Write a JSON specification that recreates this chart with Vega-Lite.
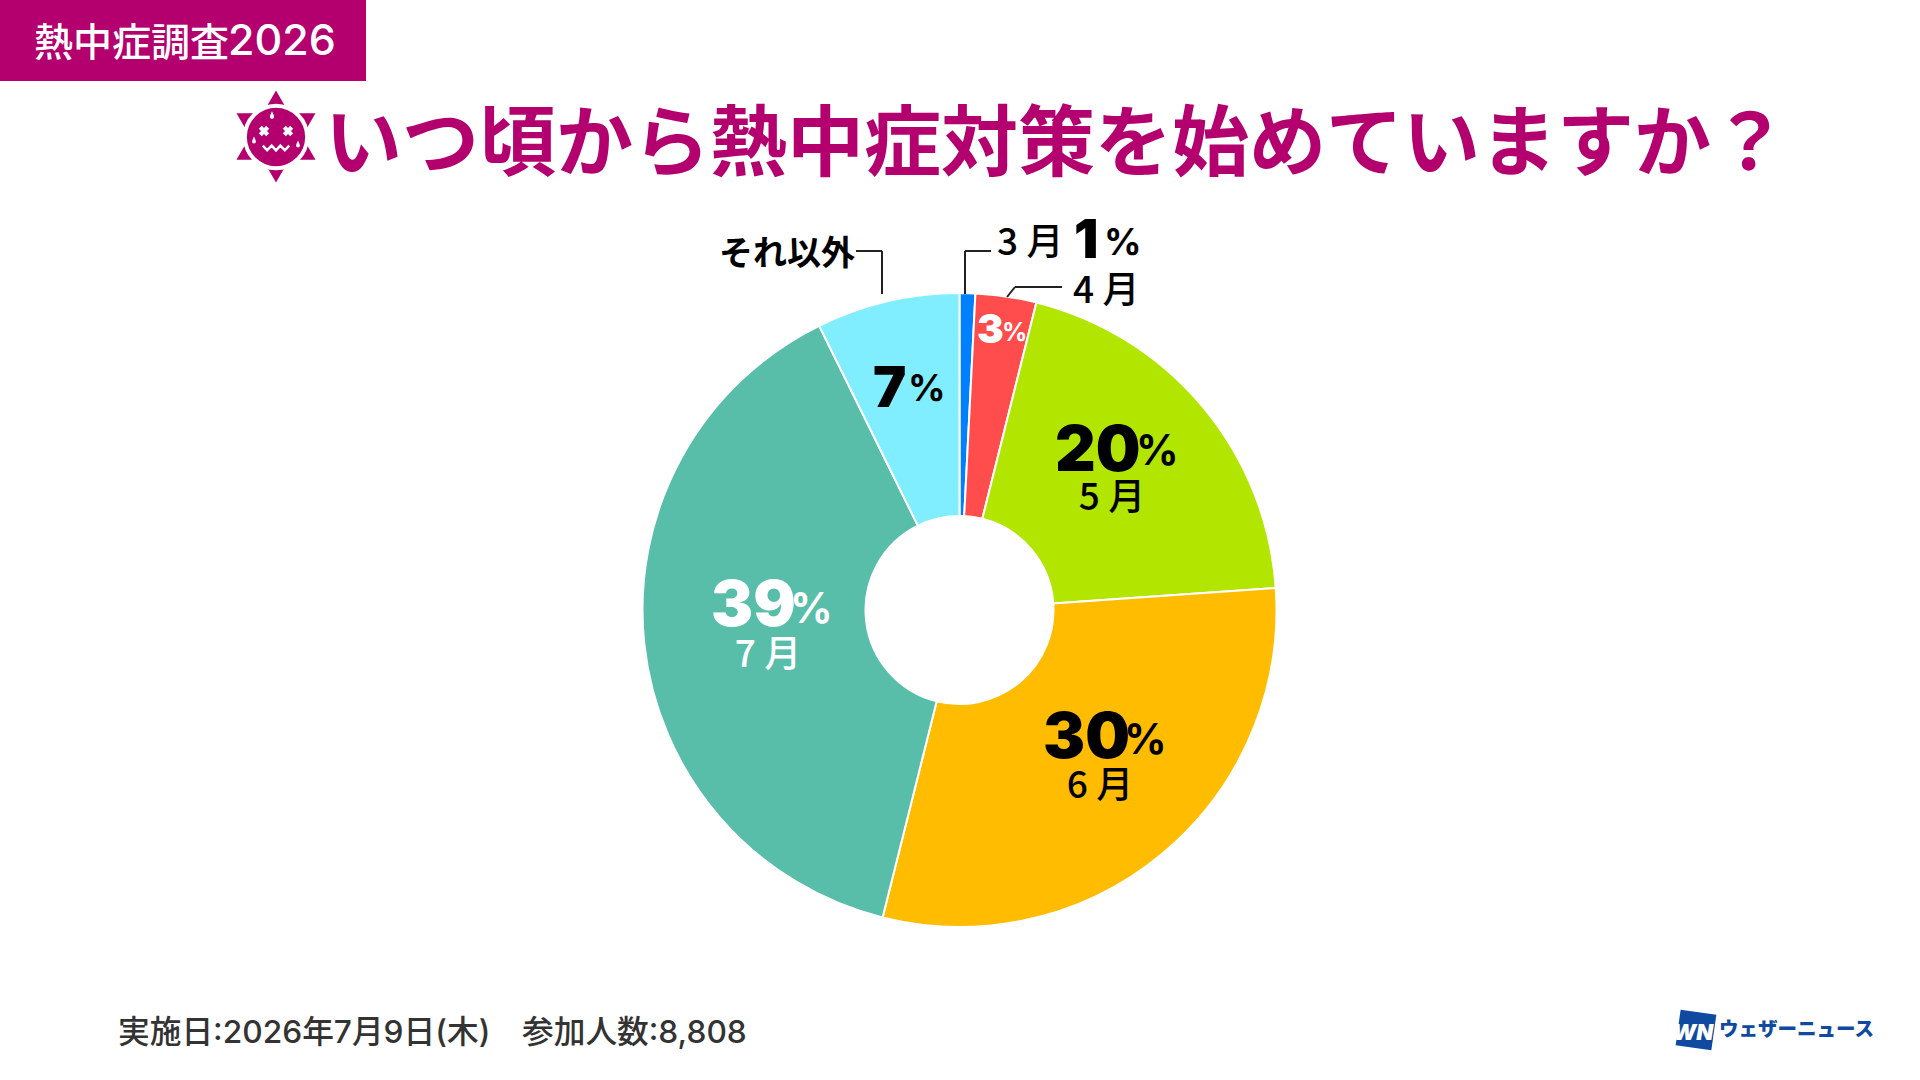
{
  "$schema": "https://vega.github.io/schema/vega-lite/v6.json",
  "autosize": {"type": "fit", "contains": "padding"},
  "padding": 0,
  "width": 1920,
  "height": 1080,
  "background": "white",
  "config": {"view": {"stroke": null}, "axis": {"disable": true}, "text": {"font": "Noto Sans CJK JP"}},
  "datasets": {
    "one": [{}],
    "shares": [
      {"month": "3 月", "share": 0.8, "ord": 1, "pct": "1"},
      {"month": "4 月", "share": 3.1, "ord": 2, "pct": "3"},
      {"month": "5 月", "share": 20.0, "ord": 3, "pct": "20"},
      {"month": "6 月", "share": 30.0, "ord": 4, "pct": "30"},
      {"month": "7 月", "share": 38.8, "ord": 5, "pct": "39"},
      {"month": "それ以外", "share": 7.3, "ord": 6, "pct": "7"}
    ]
  },
  "data": {"name": "shares"},
  "layer": [
    {
      "mark": {"type": "arc", "outerRadius": 317, "innerRadius": 94, "stroke": "white", "strokeWidth": 2},
      "encoding": {
        "x": {"datum": 959.5, "scale": {"domain": [0, 1920], "nice": false, "zero": false}},
        "y": {"datum": 610, "scale": {"domain": [1080, 0], "nice": false, "zero": false}},
        "theta": {"field": "share", "type": "quantitative", "stack": true},
        "order": {"field": "ord"},
        "color": {
          "field": "month",
          "type": "nominal",
          "legend": null,
          "scale": {
            "domain": ["3 月", "4 月", "5 月", "6 月", "7 月", "それ以外"],
            "range": ["#0080ff", "#ff4d4d", "#b2e600", "#ffbc00", "#58bea9", "#80eeff"]
          }
        }
      }
    },
    {
      "data": {"name": "one"},
      "mark": {"type": "rect", "color": "#b3006e"},
      "encoding": {"x": {"datum": 0}, "x2": {"datum": 366}, "y": {"datum": 0}, "y2": {"datum": 81}}
    },
    {
      "data": {"values": [{"t": "熱中症調査"}]},
      "mark": {"type": "text", "align": "left", "baseline": "middle", "fontSize": 39, "fontWeight": 500, "color": "white"},
      "encoding": {"x": {"datum": 34}, "y": {"datum": 44}, "text": {"field": "t"}}
    },
    {
      "data": {"values": [{"t": "2026"}]},
      "mark": {"type": "text", "align": "left", "baseline": "middle", "font": "Inter", "fontSize": 43, "fontWeight": 500, "color": "white"},
      "encoding": {"x": {"datum": 228}, "y": {"datum": 42}, "text": {"field": "t"}}
    },
    {
      "data": {"values": [{"t": "いつ頃から熱中症対策を始めていますか？"}]},
      "mark": {"type": "text", "align": "left", "baseline": "middle", "fontSize": 77, "fontWeight": 700, "color": "#b3006e"},
      "encoding": {"x": {"datum": 325}, "y": {"datum": 147}, "text": {"field": "t"}}
    },
    {
      "data": {"name": "one"},
      "mark": {"type": "point", "shape": "triangle-up", "filled": true, "opacity": 1, "size": 300, "color": "#b3006e"},
      "encoding": {"x": {"datum": 276}, "y": {"datum": 98}}
    },
    {
      "data": {"name": "one"},
      "mark": {"type": "point", "shape": "triangle-down", "filled": true, "opacity": 1, "size": 300, "color": "#b3006e"},
      "encoding": {"x": {"datum": 276}, "y": {"datum": 175}}
    },
    {
      "data": {"name": "one"},
      "mark": {"type": "point", "shape": "triangle-up", "angle": 300, "filled": true, "opacity": 1, "size": 300, "color": "#b3006e"},
      "encoding": {"x": {"datum": 243}, "y": {"datum": 117}}
    },
    {
      "data": {"name": "one"},
      "mark": {"type": "point", "shape": "triangle-up", "angle": 60, "filled": true, "opacity": 1, "size": 300, "color": "#b3006e"},
      "encoding": {"x": {"datum": 309}, "y": {"datum": 117}}
    },
    {
      "data": {"name": "one"},
      "mark": {"type": "point", "shape": "triangle-up", "angle": 240, "filled": true, "opacity": 1, "size": 300, "color": "#b3006e"},
      "encoding": {"x": {"datum": 243}, "y": {"datum": 156}}
    },
    {
      "data": {"name": "one"},
      "mark": {"type": "point", "shape": "triangle-up", "angle": 120, "filled": true, "opacity": 1, "size": 300, "color": "#b3006e"},
      "encoding": {"x": {"datum": 309}, "y": {"datum": 156}}
    },
    {
      "data": {"name": "one"},
      "mark": {"type": "point", "shape": "circle", "filled": true, "opacity": 1, "size": 4400, "color": "white"},
      "encoding": {"x": {"datum": 276}, "y": {"datum": 137}}
    },
    {
      "data": {"name": "one"},
      "mark": {"type": "point", "shape": "circle", "filled": true, "opacity": 1, "size": 3400, "color": "#b3006e"},
      "encoding": {"x": {"datum": 276}, "y": {"datum": 137}}
    },
    {
      "data": {"name": "one"},
      "mark": {"type": "point", "shape": "cross", "angle": 45, "filled": true, "opacity": 1, "size": 110, "color": "white"},
      "encoding": {"x": {"datum": 264}, "y": {"datum": 131}}
    },
    {
      "data": {"name": "one"},
      "mark": {"type": "point", "shape": "cross", "angle": 45, "filled": true, "opacity": 1, "size": 110, "color": "white"},
      "encoding": {"x": {"datum": 288}, "y": {"datum": 131}}
    },
    {
      "data": {"name": "one"},
      "mark": {"type": "point", "shape": "M-1,-.1L-.67,.25L-.33,-.1L0,.25L.33,-.1L.67,.25L1,-.1", "filled": false, "opacity": 1, "size": 700, "strokeWidth": 2.5, "color": "white"},
      "encoding": {"x": {"datum": 276}, "y": {"datum": 147}}
    },
    {
      "data": {"name": "one"},
      "mark": {"type": "point", "shape": "M0,-1C.3,-.3 .55,.1 .55,.45A.55,.55 0 1 1 -.55,.45C-.55,.1 -.3,-.3 0,-1Z", "filled": true, "opacity": 1, "size": 60, "color": "white"},
      "encoding": {"x": {"datum": 272}, "y": {"datum": 115}}
    },
    {
      "data": {"name": "one"},
      "mark": {"type": "point", "shape": "M0,-1C.3,-.3 .55,.1 .55,.45A.55,.55 0 1 1 -.55,.45C-.55,.1 -.3,-.3 0,-1Z", "filled": true, "opacity": 1, "size": 50, "color": "white"},
      "encoding": {"x": {"datum": 254}, "y": {"datum": 140}}
    },
    {
      "data": {"name": "one"},
      "mark": {"type": "point", "shape": "M0,-1C.3,-.3 .55,.1 .55,.45A.55,.55 0 1 1 -.55,.45C-.55,.1 -.3,-.3 0,-1Z", "filled": true, "opacity": 1, "size": 50, "color": "white"},
      "encoding": {"x": {"datum": 298}, "y": {"datum": 144}}
    },
    {
      "data": {"name": "one"},
      "mark": {"type": "rule", "stroke": "#222222", "strokeWidth": 2},
      "encoding": {"x": {"datum": 856}, "x2": {"datum": 882}, "y": {"datum": 251}, "y2": {"datum": 251}}
    },
    {
      "data": {"name": "one"},
      "mark": {"type": "rule", "stroke": "#222222", "strokeWidth": 2},
      "encoding": {"x": {"datum": 882}, "x2": {"datum": 882}, "y": {"datum": 251}, "y2": {"datum": 294}}
    },
    {
      "data": {"name": "one"},
      "mark": {"type": "rule", "stroke": "#222222", "strokeWidth": 2},
      "encoding": {"x": {"datum": 965}, "x2": {"datum": 991}, "y": {"datum": 251}, "y2": {"datum": 251}}
    },
    {
      "data": {"name": "one"},
      "mark": {"type": "rule", "stroke": "#222222", "strokeWidth": 2},
      "encoding": {"x": {"datum": 965}, "x2": {"datum": 965}, "y": {"datum": 251}, "y2": {"datum": 294}}
    },
    {
      "data": {"name": "one"},
      "mark": {"type": "rule", "stroke": "#222222", "strokeWidth": 2},
      "encoding": {"x": {"datum": 1015}, "x2": {"datum": 1062}, "y": {"datum": 287}, "y2": {"datum": 287}}
    },
    {
      "data": {"name": "one"},
      "mark": {"type": "rule", "stroke": "#222222", "strokeWidth": 2},
      "encoding": {"x": {"datum": 1007}, "x2": {"datum": 1015}, "y": {"datum": 297}, "y2": {"datum": 287}}
    },
    {
      "transform": [{"filter": "datum.ord == 6"}],
      "mark": {"type": "text", "align": "right", "baseline": "middle", "fontSize": 34, "fontWeight": 700, "color": "black"},
      "encoding": {"x": {"datum": 855}, "y": {"datum": 255}, "text": {"field": "month"}}
    },
    {
      "transform": [{"filter": "datum.ord == 1"}],
      "mark": {"type": "text", "align": "left", "baseline": "middle", "fontSize": 37, "fontWeight": 500, "color": "black"},
      "encoding": {"x": {"datum": 997}, "y": {"datum": 244}, "text": {"field": "month"}}
    },
    {
      "transform": [{"filter": "datum.ord == 1"}],
      "mark": {"type": "text", "align": "left", "baseline": "middle", "font": "Inter", "fontSize": 54, "fontWeight": 900, "color": "black"},
      "encoding": {"x": {"datum": 1074}, "y": {"datum": 242}, "text": {"field": "pct"}}
    },
    {
      "data": {"values": [{"t": "%"}]},
      "mark": {"type": "text", "align": "left", "baseline": "middle", "font": "Inter", "fontSize": 37, "fontWeight": 700, "color": "black"},
      "encoding": {"x": {"datum": 1104}, "y": {"datum": 244}, "text": {"field": "t"}}
    },
    {
      "transform": [{"filter": "datum.ord == 2"}],
      "mark": {"type": "text", "align": "left", "baseline": "middle", "fontSize": 37, "fontWeight": 500, "color": "black"},
      "encoding": {"x": {"datum": 1073}, "y": {"datum": 292}, "text": {"field": "month"}}
    },
    {
      "transform": [{"filter": "datum.ord == 2"}],
      "mark": {"type": "text", "align": "left", "baseline": "middle", "font": "Inter", "fontSize": 40, "fontWeight": 900, "color": "white"},
      "encoding": {"x": {"datum": 977}, "y": {"datum": 331}, "text": {"field": "pct"}}
    },
    {
      "data": {"values": [{"t": "%"}]},
      "mark": {"type": "text", "align": "left", "baseline": "middle", "font": "Inter", "fontSize": 25, "fontWeight": 700, "color": "white"},
      "encoding": {"x": {"datum": 1002}, "y": {"datum": 333}, "text": {"field": "t"}}
    },
    {
      "transform": [{"filter": "datum.ord == 3"}],
      "mark": {"type": "text", "align": "left", "baseline": "middle", "font": "Inter", "fontSize": 63, "fontWeight": 900, "color": "black"},
      "encoding": {"x": {"datum": 1055}, "y": {"datum": 452}, "text": {"field": "pct"}}
    },
    {
      "data": {"values": [{"t": "%"}]},
      "mark": {"type": "text", "align": "left", "baseline": "middle", "font": "Inter", "fontSize": 42, "fontWeight": 700, "color": "black"},
      "encoding": {"x": {"datum": 1136}, "y": {"datum": 452}, "text": {"field": "t"}}
    },
    {
      "transform": [{"filter": "datum.ord == 3"}],
      "mark": {"type": "text", "align": "center", "baseline": "middle", "fontSize": 37, "fontWeight": 500, "color": "black"},
      "encoding": {"x": {"datum": 1112}, "y": {"datum": 499}, "text": {"field": "month"}}
    },
    {
      "transform": [{"filter": "datum.ord == 4"}],
      "mark": {"type": "text", "align": "left", "baseline": "middle", "font": "Inter", "fontSize": 63, "fontWeight": 900, "color": "black"},
      "encoding": {"x": {"datum": 1043}, "y": {"datum": 739}, "text": {"field": "pct"}}
    },
    {
      "data": {"values": [{"t": "%"}]},
      "mark": {"type": "text", "align": "left", "baseline": "middle", "font": "Inter", "fontSize": 42, "fontWeight": 700, "color": "black"},
      "encoding": {"x": {"datum": 1124}, "y": {"datum": 741}, "text": {"field": "t"}}
    },
    {
      "transform": [{"filter": "datum.ord == 4"}],
      "mark": {"type": "text", "align": "center", "baseline": "middle", "fontSize": 37, "fontWeight": 500, "color": "black"},
      "encoding": {"x": {"datum": 1100}, "y": {"datum": 787}, "text": {"field": "month"}}
    },
    {
      "transform": [{"filter": "datum.ord == 5"}],
      "mark": {"type": "text", "align": "left", "baseline": "middle", "font": "Inter", "fontSize": 63, "fontWeight": 900, "color": "white"},
      "encoding": {"x": {"datum": 711}, "y": {"datum": 607}, "text": {"field": "pct"}}
    },
    {
      "data": {"values": [{"t": "%"}]},
      "mark": {"type": "text", "align": "left", "baseline": "middle", "font": "Inter", "fontSize": 42, "fontWeight": 700, "color": "white"},
      "encoding": {"x": {"datum": 790}, "y": {"datum": 610}, "text": {"field": "t"}}
    },
    {
      "transform": [{"filter": "datum.ord == 5"}],
      "mark": {"type": "text", "align": "center", "baseline": "middle", "fontSize": 37, "fontWeight": 500, "color": "white"},
      "encoding": {"x": {"datum": 768}, "y": {"datum": 656}, "text": {"field": "month"}}
    },
    {
      "transform": [{"filter": "datum.ord == 6"}],
      "mark": {"type": "text", "align": "left", "baseline": "middle", "font": "Inter", "fontSize": 56, "fontWeight": 900, "color": "black"},
      "encoding": {"x": {"datum": 873}, "y": {"datum": 390}, "text": {"field": "pct"}}
    },
    {
      "data": {"values": [{"t": "%"}]},
      "mark": {"type": "text", "align": "left", "baseline": "middle", "font": "Inter", "fontSize": 37, "fontWeight": 700, "color": "black"},
      "encoding": {"x": {"datum": 908}, "y": {"datum": 390}, "text": {"field": "t"}}
    },
    {
      "data": {"values": [{"t": "実施日:2026年7月9日(木)　参加人数:8,808"}]},
      "mark": {"type": "text", "align": "left", "baseline": "middle", "font": "Inter, Noto Sans CJK JP", "fontSize": 31.7, "fontWeight": 500, "color": "#333333"},
      "encoding": {"x": {"datum": 118}, "y": {"datum": 1033}, "text": {"field": "t"}}
    },
    {
      "data": {"name": "one"},
      "mark": {"type": "point", "shape": "square", "angle": 8, "filled": true, "opacity": 1, "size": 1300, "color": "#0f4aa0"},
      "encoding": {"x": {"datum": 1696}, "y": {"datum": 1030}}
    },
    {
      "data": {"values": [{"t": "WNI"}]},
      "mark": {"type": "text", "align": "center", "baseline": "middle", "font": "Inter", "fontStyle": "italic", "fontSize": 22, "fontWeight": 900, "color": "white"},
      "encoding": {"x": {"datum": 1696}, "y": {"datum": 1033}, "text": {"field": "t"}}
    },
    {
      "data": {"values": [{"t": "ウェザーニュース"}]},
      "mark": {"type": "text", "align": "left", "baseline": "middle", "fontSize": 19.5, "fontWeight": 900, "color": "#0f4aa0"},
      "encoding": {"x": {"datum": 1719}, "y": {"datum": 1030}, "text": {"field": "t"}}
    }
  ]
}
